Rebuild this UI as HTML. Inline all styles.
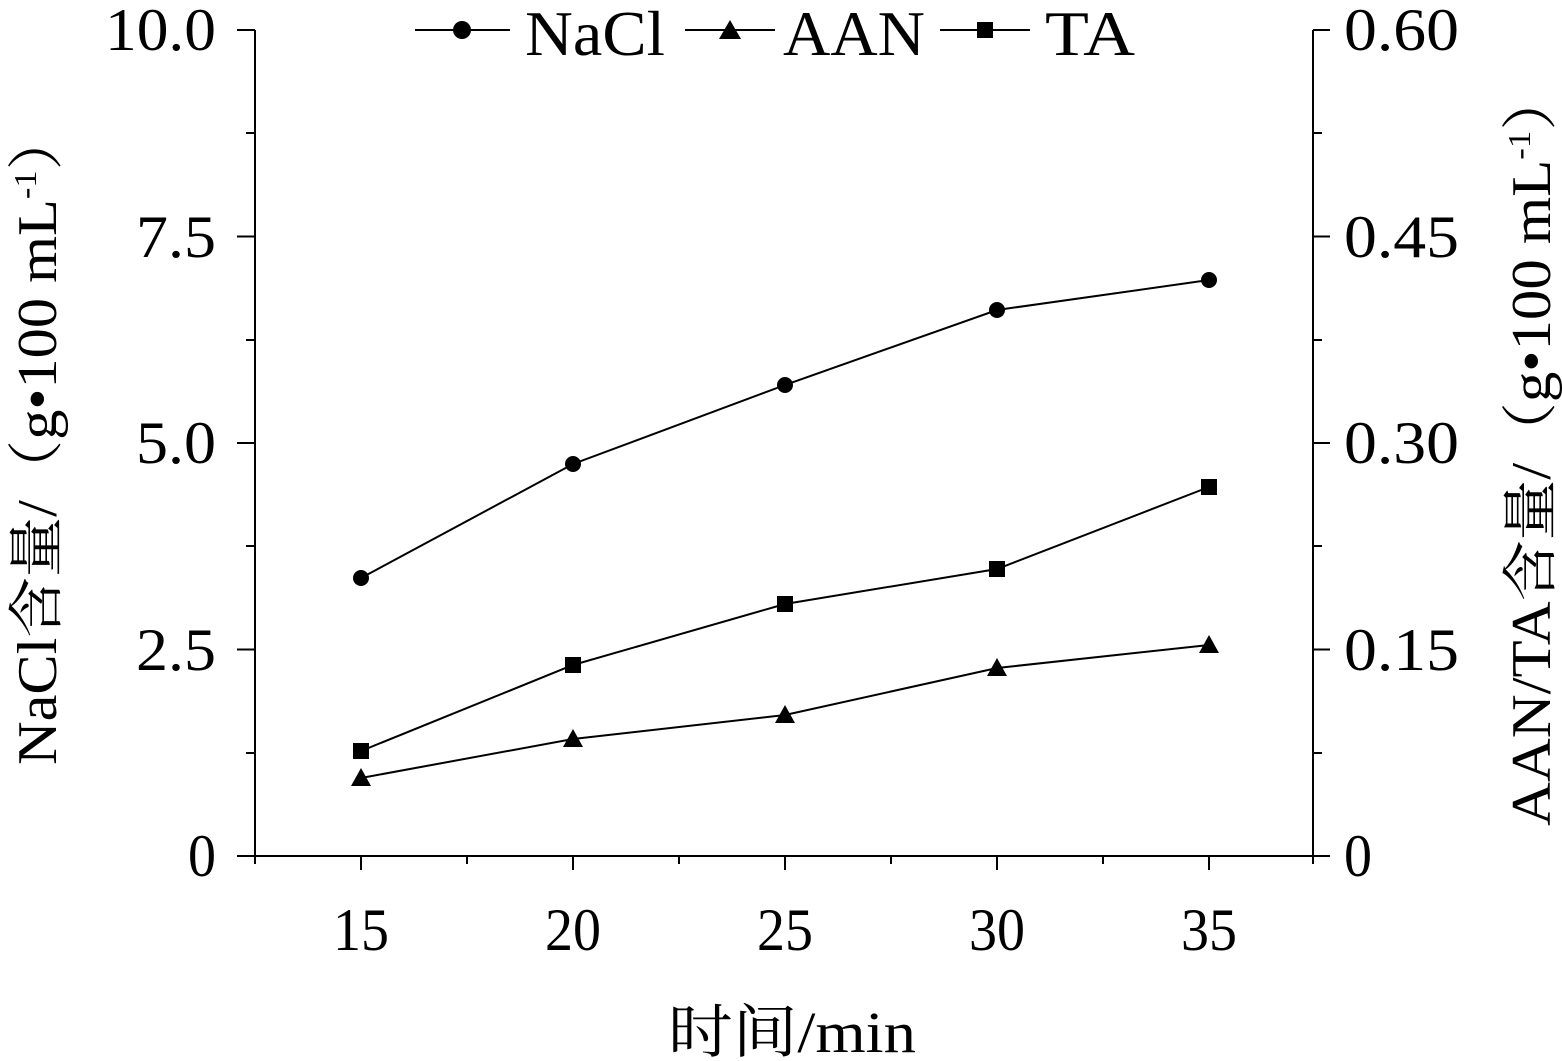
<!DOCTYPE html>
<html><head><meta charset="utf-8"><style>body{margin:0;background:#fff}svg{display:block}</style></head><body>
<svg width="1562" height="1061" viewBox="0 0 1562 1061" font-family="'Liberation Serif','Noto Serif CJK SC',serif" fill="#000">
<g stroke="#000" stroke-width="2" fill="none">
<path d="M255 30V856H1313V30"/>
<path d="M255 30H237M255 236.5H237M255 443H237M255 649.5H237M255 856H237M255 133H246M255 340H246M255 546H246M255 753H246"/>
<path d="M1313 30H1330M1313 236.5H1330M1313 443H1330M1313 649.5H1330M1313 856H1330M1313 133H1322M1313 340H1322M1313 546H1322M1313 753H1322"/>
<path d="M361 856V870M573 856V870M785 856V870M997 856V870M1209 856V870M467 856V864M679 856V864M891 856V864M1103 856V864M255 856V864M1313 856V864"/>
<polyline points="361,578 573,464 785,385 997,310 1209,280"/>
<polyline points="361,751 573,665 785,604 997,569 1209,487"/>
<polyline points="361,778 573,739 785,715 997,668 1209,645"/>
<path d="M415 30H510M685 30H775M940 30H1030"/>
</g>
<g>
<circle cx="361" cy="578" r="8"/><circle cx="573" cy="464" r="8"/><circle cx="785" cy="385" r="8"/><circle cx="997" cy="310" r="8"/><circle cx="1209" cy="280" r="8"/>
<rect x="353" y="743" width="16" height="16"/><rect x="565" y="657" width="16" height="16"/><rect x="777" y="596" width="16" height="16"/><rect x="989" y="561" width="16" height="16"/><rect x="1201" y="479" width="16" height="16"/>
<path d="M361 768l10 18h-20zM573 729l10 18h-20zM785 705l10 18h-20zM997 658l10 18h-20zM1209 635l10 18h-20z"/>
<circle cx="462" cy="30" r="9"/><path d="M730 20l11 19h-22z"/><rect x="977" y="22" width="16" height="16"/>
</g>
<g font-size="64">
<text x="525" y="55" textLength="140" lengthAdjust="spacingAndGlyphs">NaCl</text>
<text x="783" y="55" textLength="142" lengthAdjust="spacingAndGlyphs">AAN</text>
<text x="1045" y="55" textLength="90" lengthAdjust="spacingAndGlyphs">TA</text>
</g>
<g font-size="60" text-anchor="end">
<text x="216" y="50" textLength="111" lengthAdjust="spacingAndGlyphs">10.0</text>
<text x="216" y="257" textLength="80" lengthAdjust="spacingAndGlyphs">7.5</text>
<text x="216" y="463" textLength="80" lengthAdjust="spacingAndGlyphs">5.0</text>
<text x="216" y="670" textLength="80" lengthAdjust="spacingAndGlyphs">2.5</text>
<text x="216" y="876" textLength="28" lengthAdjust="spacingAndGlyphs">0</text>
</g>
<g font-size="60">
<text x="1344" y="50" textLength="115" lengthAdjust="spacingAndGlyphs">0.60</text>
<text x="1344" y="257" textLength="115" lengthAdjust="spacingAndGlyphs">0.45</text>
<text x="1344" y="463" textLength="115" lengthAdjust="spacingAndGlyphs">0.30</text>
<text x="1344" y="670" textLength="115" lengthAdjust="spacingAndGlyphs">0.15</text>
<text x="1344" y="876" textLength="28" lengthAdjust="spacingAndGlyphs">0</text>
</g>
<g font-size="60" text-anchor="middle">
<text x="361" y="950" textLength="56" lengthAdjust="spacingAndGlyphs">15</text>
<text x="573" y="950" textLength="56" lengthAdjust="spacingAndGlyphs">20</text>
<text x="785" y="950" textLength="56" lengthAdjust="spacingAndGlyphs">25</text>
<text x="997" y="950" textLength="56" lengthAdjust="spacingAndGlyphs">30</text>
<text x="1209" y="950" textLength="56" lengthAdjust="spacingAndGlyphs">35</text>
</g>
<text font-size="58" x="668" y="1052" textLength="248" lengthAdjust="spacingAndGlyphs">时间/min</text>
<text font-size="56" transform="translate(56,765) rotate(-90)" textLength="655" lengthAdjust="spacingAndGlyphs">NaCl含量/（g•100 mL<tspan font-size="32" dy="-20">-1</tspan><tspan dy="20">）</tspan></text>
<text font-size="56" transform="translate(1550,826) rotate(-90)" textLength="756" lengthAdjust="spacingAndGlyphs">AAN/TA含量/（g•100 mL<tspan font-size="32" dy="-20">-1</tspan><tspan dy="20">）</tspan></text>
</svg>
</body></html>
